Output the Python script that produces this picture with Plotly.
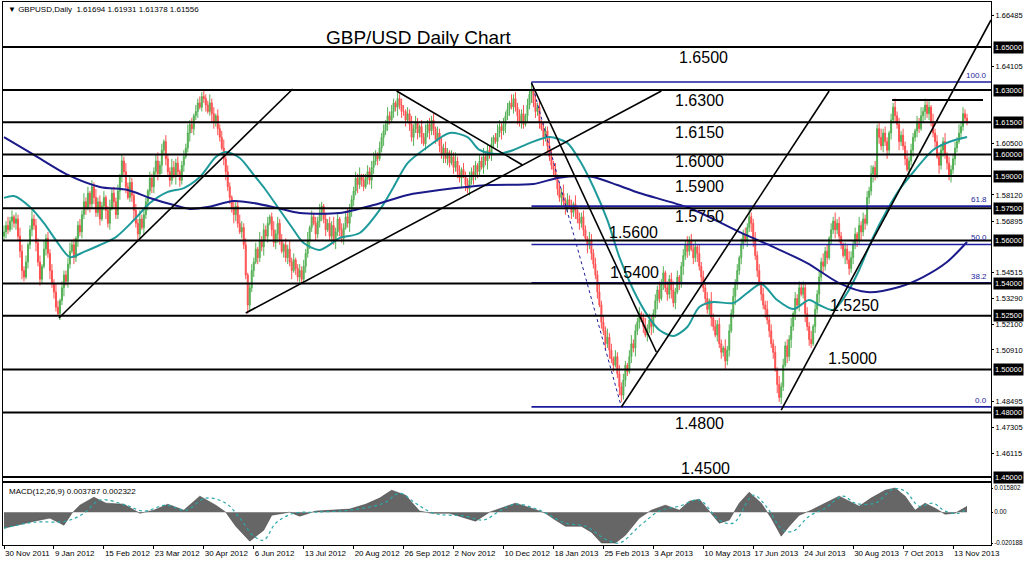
import plotly.graph_objects as go

# ---------------- DATA ----------------
BASE = 1.45      # price = BASE + pips * PIP
PIP = 0.0001

# daily closes, in pips above 1.4500 (bar 0 = 30 Nov 2011)
close_pips = [
    1140, 1170, 1150, 1190, 1210, 1180, 1200, 1120, 1050, 960, 930, 1000, 1080, 1150, 1200, 1170, 1090, 1000, 920, 980, 1060, 1110, 1040, 960, 900,
    860, 790, 760, 820, 880, 940, 910, 990, 1050, 1080, 1020, 1110, 1170, 1140, 1220, 1280, 1250, 1320, 1270, 1350, 1300, 1230, 1280, 1200, 1260,
    1300, 1240, 1180, 1250, 1320, 1280, 1220, 1330, 1400, 1470, 1420, 1350, 1300, 1370, 1310, 1240, 1180, 1130, 1200, 1160, 1220, 1280, 1330, 1390, 1350,
    1420, 1470, 1410, 1450, 1520, 1560, 1480, 1420, 1380, 1440, 1400, 1460, 1420, 1380, 1450, 1490, 1530, 1600, 1640, 1620, 1680, 1700, 1740, 1720, 1770,
    1760, 1730, 1700, 1740, 1690, 1650, 1680, 1620, 1580, 1530, 1480, 1420, 1350, 1300, 1250, 1220, 1260, 1180, 1140, 1160, 1080, 940, 800, 880, 960,
    1000, 1060, 1020, 1100, 1070, 1150, 1120, 1180, 1210, 1150, 1090, 1130, 1180, 1100, 1050, 1080, 1020, 1060, 1000, 960, 1010, 970, 930, 960, 920,
    980, 1040, 1100, 1160, 1210, 1180, 1130, 1190, 1230, 1260, 1200, 1150, 1180, 1120, 1170, 1100, 1140, 1200, 1150, 1110, 1160, 1210, 1180, 1240, 1290,
    1330, 1390, 1360, 1400, 1380, 1350, 1390, 1420, 1380, 1440, 1470, 1500, 1480, 1530, 1580, 1610, 1640, 1680, 1660, 1700, 1740, 1720, 1760, 1730, 1700,
    1700, 1660, 1690, 1640, 1580, 1620, 1650, 1600, 1630, 1580, 1550, 1600, 1640, 1610, 1660, 1620, 1570, 1600, 1540, 1500, 1530, 1480, 1510, 1460, 1490,
    1440, 1470, 1420, 1390, 1430, 1400, 1360, 1340, 1380, 1420, 1400, 1450, 1420, 1470, 1440, 1490, 1470, 1520, 1500, 1550, 1580, 1560, 1600, 1630, 1610,
    1640, 1680, 1710, 1740, 1720, 1760, 1720, 1680, 1650, 1690, 1640, 1680, 1730, 1780, 1800, 1740, 1700, 1720, 1650, 1620, 1580, 1610, 1540, 1490, 1450,
    1430, 1390, 1340, 1300, 1320, 1280, 1250, 1290, 1260, 1230, 1270, 1240, 1200, 1180, 1210, 1150, 1110, 1080, 1100, 1040, 990, 940, 860, 800, 720,
    680, 620, 650, 590, 550, 520, 560, 480, 420, 380, 450, 520, 490, 560, 620, 600, 680, 720, 760, 740, 700, 660, 690, 730, 700,
    760, 820, 870, 830, 900, 950, 880, 850, 920, 870, 810, 860, 930, 900, 980, 1030, 1080, 1050, 1100, 1060, 1020, 1070, 1040, 980, 930,
    880, 830, 780, 820, 740, 700, 660, 710, 620, 580, 600, 540, 590, 680, 760, 840, 900, 960, 1020, 1080, 1130, 1100, 1160, 1210, 1180,
    1100, 1030, 960, 900, 850, 800, 780, 730, 680, 620, 580, 500, 430, 370, 420, 520, 610, 560, 640, 700, 760, 830, 800, 880, 850,
    880, 760, 700, 640, 620, 700, 780, 850, 930, 1000, 980, 1050, 1020, 1110, 1150, 1190, 1150, 1180, 1120, 1080, 1030, 1060, 1010, 970, 1020,
    1080, 1130, 1100, 1170, 1140, 1200, 1180, 1300, 1330, 1410, 1440, 1400, 1620, 1580, 1540, 1600, 1560, 1520, 1600, 1660, 1720, 1680, 1640, 1560, 1590,
    1540, 1480, 1430, 1470, 1520, 1580, 1610, 1650, 1620, 1680, 1700, 1730, 1690, 1720, 1650, 1600, 1560, 1490, 1450, 1520, 1560, 1500, 1460, 1400, 1430,
    1480, 1530, 1560, 1600, 1630, 1690, 1669, 1656,
]
first_open_pips = 1120

# wick lengths beyond the candle body, in units of 10 pips
upper_wick = [
    3,2,4,2,3,1,3,2,4,3,2,3,1,2,4,2,3,2,3,1,4,2,3,2,3,
    2,4,3,1,3,2,2,3,4,2,3,1,2,3,2,4,2,3,1,3,2,4,2,3,2,
    3,1,2,4,2,3,2,3,1,3,2,4,2,3,2,1,3,2,4,2,3,2,1,3,2,
    2,3,4,2,3,1,3,2,2,4,3,2,3,1,2,3,2,4,2,3,1,3,2,3,2,
    3,2,2,4,2,3,1,3,2,3,4,2,3,2,1,3,2,2,4,3,2,3,1,2,3,
    2,3,1,4,2,3,2,3,1,2,4,2,3,2,3,1,3,2,4,2,3,1,2,3,2,
    3,2,4,1,3,2,3,2,4,2,1,3,2,3,2,4,2,3,1,3,2,2,4,3,2,
    2,3,2,4,1,3,2,3,2,3,4,2,1,3,2,3,2,4,2,3,2,1,3,2,3,
    3,1,3,2,4,2,3,2,1,3,2,4,2,3,2,3,1,3,2,4,2,3,2,1,3,
    2,4,2,3,1,3,2,3,4,2,3,2,1,3,2,4,2,3,2,3,1,2,4,3,2,
    3,2,3,1,4,2,3,2,3,2,4,1,3,2,3,2,4,2,3,1,3,2,2,4,3,
    2,3,1,3,2,4,2,3,2,3,1,4,2,3,2,3,2,1,4,3,2,3,2,4,2,
    3,2,4,2,3,1,3,2,4,2,3,2,1,3,4,2,3,2,3,1,2,4,2,3,2,
    2,3,2,4,2,3,1,3,2,3,4,2,3,1,2,3,2,4,2,3,2,3,1,4,2,
    3,2,3,1,4,2,3,2,3,2,1,4,2,3,2,4,2,3,1,3,2,3,2,4,2,
    2,4,2,3,1,3,2,4,2,3,2,3,1,4,2,3,2,3,2,4,1,3,2,3,2,
    3,2,3,2,4,1,3,2,3,2,4,2,3,1,3,2,4,2,3,2,1,3,2,4,3,
    2,3,1,4,2,3,2,3,2,4,1,3,2,3,4,2,3,2,1,3,2,4,2,3,2,
    3,2,4,2,3,2,1,3,2,4,2,3,2,3,1,4,2,3,2,3,2,4,1,3,2,
    2,3,2,4,2,3,2,2,
]
lower_wick = [
    2,3,2,1,4,2,3,2,3,4,2,1,3,2,3,2,4,2,3,2,1,3,2,4,2,
    3,2,1,3,2,4,2,3,2,1,3,2,4,2,3,2,3,1,4,2,3,2,2,3,1,
    2,4,2,3,1,3,2,2,4,3,2,3,1,2,3,4,2,3,2,1,3,2,4,2,3,
    3,2,3,1,4,2,3,2,3,2,1,4,2,3,2,3,1,2,4,2,3,2,3,1,2,
    2,3,1,2,4,3,2,3,2,1,3,4,2,3,2,4,3,2,1,3,2,2,4,3,2,
    3,1,3,2,2,4,2,3,1,3,2,3,4,2,1,3,2,3,2,4,1,3,2,3,2,
    2,3,2,4,2,1,3,2,3,4,2,3,1,2,3,2,4,2,3,2,3,1,2,4,3,
    3,2,4,2,3,2,1,3,2,4,3,2,3,1,2,4,2,3,2,1,3,2,4,2,3,
    2,3,1,3,2,4,2,3,2,3,1,3,2,4,2,3,2,1,3,2,4,2,3,2,1,
    3,2,3,2,4,1,3,2,3,2,4,2,3,2,1,3,2,4,2,3,2,1,3,2,4,
    2,4,2,3,1,3,2,4,2,3,2,1,3,2,4,2,3,2,3,1,4,2,3,2,2,
    3,1,3,2,4,2,3,2,1,3,2,4,2,3,2,3,1,4,2,3,2,2,3,1,3,
    2,3,2,4,2,3,1,2,4,3,2,3,2,1,3,2,4,2,3,2,3,1,3,2,4,
    3,2,4,2,1,3,2,3,2,4,2,3,1,3,2,4,2,3,2,1,3,2,4,2,3,
    2,3,2,3,4,2,1,3,2,3,2,4,2,3,1,2,4,3,2,3,2,1,3,2,4,
    3,2,3,1,3,2,4,2,3,2,3,1,4,2,3,2,1,3,2,4,2,3,2,3,1,
    2,4,2,3,2,1,3,2,4,2,3,2,3,1,3,2,4,2,3,2,1,4,2,3,2,
    3,2,3,2,4,2,3,1,3,2,4,2,1,3,2,3,2,4,2,3,1,3,2,4,2,
    2,3,1,4,2,3,2,3,2,1,3,4,2,3,2,2,3,1,4,2,3,2,3,2,3,
    2,3,2,1,3,2,2,2,
]

# date axis labels (every 25 bars)
date_labels = ["30 Nov 2011", "9 Jan 2012", "15 Feb 2012", "23 Mar 2012", "30 Apr 2012",
               "6 Jun 2012", "13 Jul 2012", "20 Aug 2012", "26 Sep 2012", "2 Nov 2012",
               "10 Dec 2012", "18 Jan 2013", "25 Feb 2013", "3 Apr 2013", "10 May 2013",
               "17 Jun 2013", "24 Jul 2013", "30 Aug 2013", "7 Oct 2013", "13 Nov 2013"]
date_bars = [0, 25, 50, 75, 100, 125, 150, 175, 200, 225, 250, 275, 300, 325, 350,
             375, 400, 425, 450, 475]

# moving averages (sampled: bar index, price)
fast_ma_bars = [0,5,13,20,27,33,40,48,56,65,73,82,90,98,106,111,118,125,131,138,145,150,158,165,168,
                178,188,195,202,212,223,232,238,247,255,263,273,282,288,295,302,308,315,322,328,335,
                342,348,355,365,372,379,387,395,403,408,415,422,428,435,442,448,456,465,473,482]
fast_ma_vals = [1.5798,1.5807,1.5756,1.5681,1.5588,1.5523,1.5547,1.5579,1.5616,1.5695,1.5774,1.5826,
                1.5844,1.5895,1.5988,1.6012,1.5984,1.5905,1.5835,1.5742,1.5649,1.5588,1.5556,1.5593,
                1.5612,1.5635,1.5742,1.5849,1.5960,1.6035,1.6100,1.6081,1.6021,1.6002,1.6021,1.6053,
                1.6081,1.6053,1.5974,1.5849,1.5695,1.5523,1.5370,1.5253,1.5184,1.5156,1.5198,1.5291,
                1.5314,1.5309,1.5356,1.5398,1.5323,1.5281,1.5323,1.5300,1.5277,1.5356,1.5463,1.5616,
                1.5742,1.5835,1.5928,1.6021,1.6058,1.6081]
slow_ma_bars = [0,15,32,48,62,73,85,93,102,115,125,137,148,168,185,202,218,243,265,277,288,295,
                307,318,343,368,385,402,418,432,448,460,472,482]
slow_ma_vals = [1.6081,1.5998,1.5905,1.5849,1.5835,1.5798,1.5765,1.5747,1.5756,1.5784,1.5774,1.5751,
                1.5728,1.5728,1.5765,1.5812,1.5835,1.5858,1.5863,1.5891,1.5900,1.5895,1.5858,1.5821,
                1.5751,1.5640,1.5570,1.5495,1.5402,1.5360,1.5384,1.5430,1.5500,1.5593]

# MACD(12,26,9) sampled, values in units of 0.001
macd_bars = [0,6,15,23,30,34,38,45,51,60,68,75,82,90,98,106,111,116,123,130,134,143,148,156,164,
             173,181,188,194,201,208,214,223,231,236,243,249,256,264,271,276,281,289,294,299,306,
             311,318,324,331,338,343,348,353,358,363,368,373,379,384,389,393,398,404,411,418,423,
             428,434,441,446,451,456,461,466,471,476,482]
macd_vals = [-10.5,-8.5,-5.9,-3.9,-8.5,-0.7,4.6,9.8,5.9,5.2,-0.7,1.3,5.2,1.3,10.5,4.6,0.0,-9.2,
             -19.0,-11.8,-2.0,0.0,-2.6,0.7,1.3,2.0,5.2,9.2,14.4,11.1,0.7,-0.7,-0.7,-3.9,-5.9,0.0,
             2.6,5.9,2.6,-0.7,-5.2,-9.2,-9.2,-13.1,-20.2,-20.2,-15.1,-3.9,1.3,4.6,1.3,7.2,8.5,0.7,
             -7.2,-5.2,5.9,13.1,5.9,-3.9,-15.7,-9.2,-2.0,1.3,5.9,10.5,7.2,3.9,9.2,14.4,15.8,10.5,
             1.3,5.9,2.6,-1.3,-0.7,3.8]
signal_bars = [0,15,31,40,48,61,70,81,91,101,111,118,125,130,136,145,156,173,190,198,206,215,231,
               240,248,256,268,281,291,301,308,318,328,338,348,358,365,375,381,390,395,403,411,420,
               426,436,445,451,458,465,471,478,482]
signal_vals = [-10.5,-6.6,-5.9,-0.7,7.9,4.6,0.7,4.6,1.3,9.2,5.9,-3.9,-15.7,-18.3,-7.2,-0.7,0.0,1.3,
               5.9,12.4,5.9,-0.7,-2.6,-5.2,0.7,5.2,1.3,-7.2,-9.2,-17.7,-20.2,-9.2,0.7,3.9,7.9,-5.2,
               -7.2,11.1,4.6,-11.8,-12.4,-2.6,2.6,10.5,5.9,5.9,15.1,13.8,3.9,5.9,0.7,-0.7,2.3]

# support / resistance levels
levels = [1.6500, 1.6300, 1.6150, 1.6000, 1.5900, 1.5750, 1.5600, 1.5400, 1.5250, 1.5000, 1.4800, 1.4500]
level_names = ["1.6500", "1.6300", "1.6150", "1.6000", "1.5900", "1.5750", "1.5600", "1.5400",
               "1.5250", "1.5000", "1.4800", "1.4500"]
axis_tick_vals = [1.66485, 1.64105, 1.60500, 1.58120, 1.56895, 1.54515, 1.53290, 1.52100,
                  1.50910, 1.48495, 1.47305, 1.46115]
macd_tick_vals = [0.015802, 0.0, -0.020188]
macd_tick_text = ["0.015802", "0.00", "-0.020188"]

# Fibonacci retracement (swing high / low)
fib_high, fib_low = 1.6337, 1.4826
fib_high_bar, fib_low_bar = 264, 309
fib_ratios = [1.0, 0.618, 0.5, 0.382, 0.0]

# trend lines: (bar0, price0, bar1, price1)
trend_lines = [
    (27.5, 1.52395, 144.5, 1.63047),
    (121.0, 1.52628, 329.0, 1.62953),
    (196.5, 1.62953, 259.5, 1.59512),
    (264.0, 1.63326, 326.5, 1.50814),
    (309.0, 1.48256, 413.0, 1.62953),
    (389.0, 1.48116, 494.0, 1.66256),
]
resistance_line = (444.5, 490.0, 1.62535)

ohlc_text = "GBPUSD,Daily  1.61694 1.61931 1.61378 1.61556"
macd_text = "MACD(12,26,9) 0.003787 0.002322"

# ---------------- BUILD ----------------
N = len(close_pips)
xs = list(range(N))
close = [BASE + c * PIP for c in close_pips]
open_ = [BASE + first_open_pips * PIP] + close[:-1]
high = [max(o, c) + w * 10 * PIP for o, c, w in zip(open_, close, upper_wick)]
low = [min(o, c) - w * 10 * PIP for o, c, w in zip(open_, close, lower_wick)]

X_MIN, X_MAX = -0.5, 494.0
Y_MIN, Y_MAX = 1.44814, 1.67093

BLACK = "#000000"
BLUE = "#1c1c9c"
TEAL = "#1f9a9a"
NAVY = "#1a1a8a"
FONT = "Liberation Sans, Arial, DejaVu Sans"

fig = go.Figure()

fig.add_trace(go.Candlestick(
    x=xs, open=open_, high=high, low=low, close=close,
    increasing=dict(line=dict(color="#55b055", width=1), fillcolor="#55b055"),
    decreasing=dict(line=dict(color="#ff5050", width=1), fillcolor="#ff5050"),
    whiskerwidth=0, showlegend=False, hoverinfo="skip", xaxis="x", yaxis="y"))

fig.add_trace(go.Scatter(x=fast_ma_bars, y=fast_ma_vals, mode="lines",
                         line=dict(color=TEAL, width=2, shape="spline", smoothing=0.8),
                         showlegend=False, hoverinfo="skip", xaxis="x", yaxis="y"))
fig.add_trace(go.Scatter(x=slow_ma_bars, y=slow_ma_vals, mode="lines",
                         line=dict(color=NAVY, width=2, shape="spline", smoothing=0.8),
                         showlegend=False, hoverinfo="skip", xaxis="x", yaxis="y"))

# horizontal support/resistance levels
shapes = []
for lv in levels:
    shapes.append(dict(type="line", xref="x domain", x0=0, x1=1, yref="y", y0=lv, y1=lv,
                       line=dict(color=BLACK, width=2), layer="above"))

# fibonacci horizontal lines
fib_levels = [fib_low + r * (fib_high - fib_low) for r in fib_ratios]
for lv in fib_levels:
    fig.add_trace(go.Scatter(x=[fib_high_bar, X_MAX], y=[lv, lv], mode="lines",
                             line=dict(color=BLUE, width=1.6), showlegend=False,
                             hoverinfo="skip", xaxis="x", yaxis="y"))
fig.add_trace(go.Scatter(x=[fib_high_bar, fib_low_bar], y=[fib_high, fib_low], mode="lines",
                         line=dict(color=BLUE, width=1, dash="dot"), showlegend=False,
                         hoverinfo="skip", xaxis="x", yaxis="y"))

for (b0, p0, b1, p1) in trend_lines:
    fig.add_trace(go.Scatter(x=[b0, b1], y=[p0, p1], mode="lines",
                             line=dict(color=BLACK, width=1.6), showlegend=False,
                             hoverinfo="skip", xaxis="x", yaxis="y", cliponaxis=True))
fig.add_trace(go.Scatter(x=[resistance_line[0], resistance_line[1]],
                         y=[resistance_line[2], resistance_line[2]], mode="lines",
                         line=dict(color=BLACK, width=2), showlegend=False,
                         hoverinfo="skip", xaxis="x", yaxis="y"))

# MACD panel
fig.add_trace(go.Scatter(x=macd_bars, y=[v * 0.001 for v in macd_vals], mode="lines",
                         line=dict(color="#3a3a3a", width=0.5), fill="tozeroy",
                         fillcolor="#666666", showlegend=False, hoverinfo="skip",
                         xaxis="x2", yaxis="y2"))
fig.add_trace(go.Scatter(x=signal_bars, y=[v * 0.001 for v in signal_vals], mode="lines",
                         line=dict(color="#2aa8a8", width=1.2, dash="dot", shape="spline"),
                         showlegend=False, hoverinfo="skip", xaxis="x2", yaxis="y2"))

# ---------------- ANNOTATIONS ----------------
annotations = []
# level captions on chart
label_bars = [350, 348, 348, 348, 348, 348, 315, 315.5, 425.5, 424.5, 348, 351]
label_dy = [-10, -10, -10, -7, -10.5, -8, 8.5, 11, 10, 11, -11, 9]
for lv, name, bx, dy in zip(levels, level_names, label_bars, label_dy):
    annotations.append(dict(x=bx, y=lv, xref="x", yref="y", text=name, showarrow=False,
                            xanchor="center", yanchor="middle",
                            yshift=dy, font=dict(size=16, color=BLACK, family=FONT)))
# boxed price labels on right axis
for lv in levels:
    annotations.append(dict(x=1, y=lv, xref="paper", yref="y", text=f"{lv:.5f}",
                            showarrow=False, xanchor="left", yanchor="middle", xshift=2,
                            bgcolor=BLACK, borderpad=1,
                            font=dict(size=7.5, color="#ffffff", family=FONT)))
# fib labels
for r, lv in zip(fib_ratios, fib_levels):
    annotations.append(dict(x=1, y=lv, xref="paper", yref="y", text=f"{r * 100:.1f}",
                            showarrow=False, xanchor="right", yanchor="bottom", xshift=-2,
                            font=dict(size=8, color=BLUE, family=FONT)))
# chart title
annotations.append(dict(x=0.4206, y=0.9355, xref="paper", yref="paper",
                        text="GBP/USD Daily Chart", showarrow=False,
                        xanchor="center", yanchor="middle",
                        font=dict(size=19, color=BLACK, family=FONT)))
# top-left symbol / OHLC
annotations.append(dict(x=0, y=1, xref="paper", yref="paper", text="\u25BC " + ohlc_text,
                        showarrow=False, xanchor="left", yanchor="top", xshift=3, yshift=-1,
                        font=dict(size=8, color=BLACK, family=FONT)))
annotations.append(dict(x=0, y=1, xref="paper", yref="y2 domain", text=macd_text,
                        showarrow=False, xanchor="left", yanchor="top", xshift=4, yshift=-2,
                        font=dict(size=8, color=BLACK, family=FONT)))

PLOT_H = 563 - 2 - 18
main_bottom = (545 - 481) / PLOT_H
macd_top = (545 - 483) / PLOT_H

fig.update_layout(
    width=1024, height=563,
    margin=dict(l=3, r=33, t=2, b=18, autoexpand=False),
    paper_bgcolor="#ffffff", plot_bgcolor="#ffffff",
    font=dict(family=FONT, size=8, color=BLACK),
    showlegend=False,
    shapes=shapes,
    annotations=annotations,
    xaxis=dict(domain=[0, 1], range=[X_MIN, X_MAX], anchor="y", showticklabels=False,
               showgrid=False, zeroline=False, showline=True, mirror=True, automargin=False,
               linecolor=BLACK, linewidth=1, ticks="", rangeslider=dict(visible=False)),
    yaxis=dict(domain=[main_bottom, 1], range=[Y_MIN, Y_MAX], side="right", anchor="x",
               tickvals=axis_tick_vals, ticktext=[f"{v:.5f}" for v in axis_tick_vals],
               ticks="outside", ticklen=2, tickcolor=BLACK, showgrid=False, zeroline=False,
               showline=True, mirror=True, linecolor=BLACK, linewidth=1, automargin=False,
               tickfont=dict(size=7.5, family=FONT)),
    xaxis2=dict(domain=[0, 1], range=[X_MIN, X_MAX], anchor="y2", matches="x",
                tickvals=date_bars, ticktext=date_labels, ticks="outside", ticklen=3,
                tickangle=0, automargin=False,
                tickcolor=BLACK, ticklabelposition="outside right", showgrid=False,
                zeroline=False, showline=True, mirror=True, linecolor=BLACK, linewidth=1,
                tickfont=dict(size=8, family=FONT)),
    yaxis2=dict(domain=[0, macd_top], range=[-0.0215, 0.0191], side="right", anchor="x2",
                tickvals=macd_tick_vals, ticktext=macd_tick_text,
                ticks="outside", ticklen=1, tickcolor=BLACK, showgrid=False, zeroline=False,
                showline=True, mirror=True, linecolor=BLACK, linewidth=1, automargin=False,
                tickfont=dict(size=6.3, family=FONT)),
)

fig.write_html("out.html", config={"displayModeBar": False},
               post_script="document.body.style.margin='0px';")
